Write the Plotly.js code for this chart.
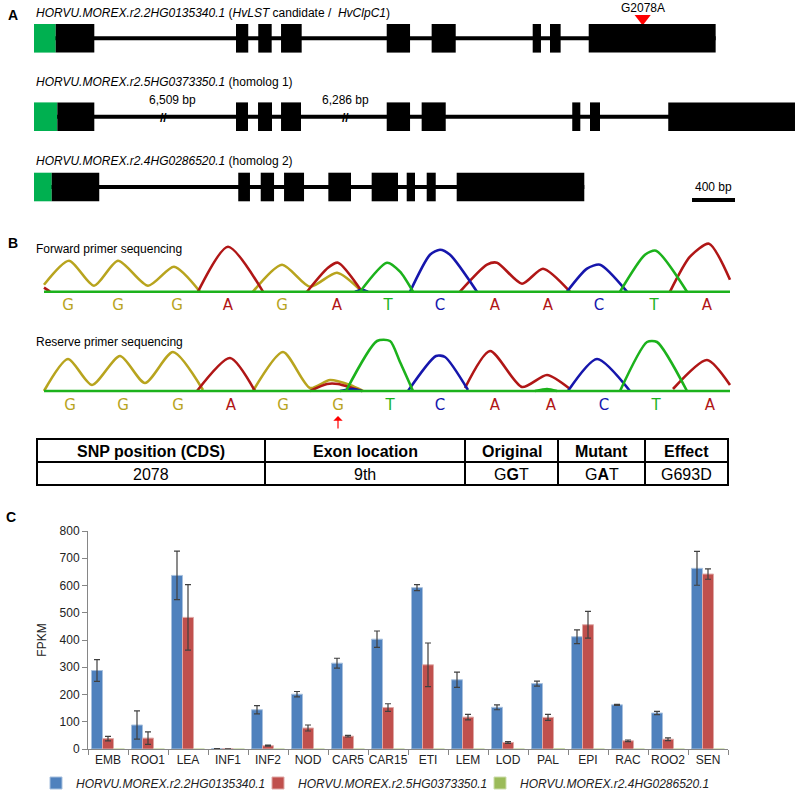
<!DOCTYPE html>
<html><head><meta charset="utf-8">
<script src="https://cdn.plot.ly/plotly-3.0.1.min.js"></script>
<style>html,body{margin:0;padding:0;background:#fff;} #chart{width:798px;height:793px;}</style>
</head><body><div id="chart"></div>
<script>
// ---------------- Panel C data ----------------
const categories = ['EMB','ROO1','LEA','INF1','INF2','NOD','CAR5','CAR15','ETI','LEM','LOD','PAL','EPI','RAC','ROO2','SEN'];
const seriesNames = ['HORVU.MOREX.r2.2HG0135340.1','HORVU.MOREX.r2.5HG0373350.1','HORVU.MOREX.r2.4HG0286520.1'];
const fpkm2HG = [288, 88, 637, 1, 144, 201, 315, 403, 592, 254, 153, 240, 412, 162, 132, 663];
const err2HG  = [40, 52, 89, 0.5, 15, 10, 18, 30, 11, 28, 9, 9, 25, 2, 6, 62];
const fpkm5HG = [38, 40, 483, 0.5, 12, 77, 47, 152, 309, 117, 24, 116, 456, 30, 36, 642];
const err5HG  = [8, 23, 120, 0.3, 2, 11, 3, 14, 80, 10, 3, 11, 49, 3, 5, 19];
const fpkm4HG = [0, 0, 0, 0, 0, 0, 0, 0, 0, 0, 0, 1.5, 0, 0, 0, 0];

// ---------------- Panel A data (bp) ----------------
const gene1Name = '<i>HORVU.MOREX.r2.2HG0135340.1</i> (<i>HvLST</i> candidate /  <i>HvClpC1</i>)';
const gene1Utr = [0, 202];
const gene1ExonStart = [202, 1879, 2086, 2298, 3281, 3699, 4639, 4800, 5160];
const gene1ExonEnd   = [561, 1993, 2211, 2490, 3498, 3923, 4716, 4899, 6341];
const snpPos = 5662, snpLabel = 'G2078A';
const gene2Name = '<i>HORVU.MOREX.r2.5HG0373350.1</i> (homolog 1)';
const gene2Utr = [0, 217];
const gene2ExonStart = [217, 1879, 2084, 2298, 3281, 3606, 5007, 5172, 5900];
const gene2ExonEnd   = [561, 1991, 2214, 2484, 3498, 3830, 5082, 5265, 7079];
const gene2Breaks = [1200, 2893];
const gene2BreakLabels = ['6,509 bp', '6,286 bp'];
const gene2BreakLabelPos = [1285, 2893];
const gene3Name = '<i>HORVU.MOREX.r2.4HG0286520.1</i> (homolog 2)';
const gene3Utr = [0, 165];
const gene3ExonStart = [165, 1900, 2109, 2326, 2738, 3141, 3467, 3653, 3932];
const gene3ExonEnd   = [607, 2009, 2233, 2512, 2949, 3386, 3544, 3737, 5119];
const scaleBar = [6121, 6521], scaleLabel = '400 bp';

// ---------------- Panel B data (scan position, peak height; null = gap) ----------------
const fwdLetters = ['G','G','G','A','G','A','T','C','A','A','C','T','A'];
const fwdPos = [68,118,177,228,282,337,388,440,495,548,599,654,707];
const revLetters = ['G','G','G','A','G','G','T','C','A','A','C','T','A'];
const revPos = [70,123,178,231,283,338,390,440,495,551,604,656,710];
const traceSpan = [44, 730];

const fwdGx = [44, 69, 94, 118, 148, 174, 200, null, 253, 282, 310, 337, 362];
const fwdGh = [7, 31, 6, 31, 6, 25, 0, null, 0, 27, 5, 19, 0];
const fwdAx = [44, 50, null, 198, 228, 263, null, 307, 328, 338, 362, null, 460, 487, 497, 522, 543, 570, null, 670, 690, 709, 730];
const fwdAh = [4, 0, null, 0, 45, 0, null, 0, 24, 29, 0, null, 0, 27, 29, 8, 23, 0, null, 0, 35, 48, 12];
const fwdCx = [355, 362, 368, null, 410, 430, 440, 450, 477, null, 567, 587, 600, 627];
const fwdCh = [0, 2, 0, null, 0, 37, 42, 37, 0, null, 0, 23, 27, 0];
const fwdTx = [360, 387, 400, 413, null, 620, 645, 656, 687];
const fwdTh = [0, 29, 20, 0, null, 0, 37, 41, 0];

const revGx = [44, 68, 92, 120, 145, 173, 203, null, 253, 283, 310, 330, 350, 363];
const revGh = [0, 32, 6, 35, 8, 39, 1, null, 0, 39, 3, 11, 6, 0];
const revAx = [197, 230, 255, null, 310, 327, 338, 352, 362, null, 465, 490, 522, 547, 570, null, 673, 707, 730];
const revAh = [0, 33, 0, null, 0, 7, 7, 3, 0, null, 3, 40, 4, 16, 2, null, 2, 31, 6];
const revCx = [340, 352, 362, null, 408, 436, 445, 468, null, 568, 597, 630];
const revCh = [0, 2, 0, null, 0, 35, 34, 1, null, 0, 32, 0];
const revTx = [346, 377, 390, 400, 413, null, 535, 547, 557, null, 620, 647, 657, 687];
const revTh = [0, 50, 50, 29, 0, null, 0, 2, 0, null, 0, 49, 49, 0];

// ---------------- Table data ----------------
const tableHeader = ['SNP position (CDS)', 'Exon location', 'Original', 'Mutant', 'Effect'];
const tableRow = ['2078', '9th', 'G<b>G</b>T', 'G<b>A</b>T', 'G693D'];

// ---------------- Build ----------------
const W = 798, H = 793;
const px = v => v / W, py = v => 1 - v / H;
const FONT = 'Liberation Sans, Arial, sans-serif';
const baseColor = {G:'rgb(184,164,30)', A:'rgb(176,22,22)', C:'rgb(22,22,172)', T:'rgb(28,178,28)'};

const traces = [];
const barColors = ['#4F81BD', '#C0504D', '#9BBB59'];
const barLines = ['#A7C0DE', '#DFA8A6', '#CDDDAC'];
const legendIds = ['legend', 'legend2', 'legend3'];
const vals = [fpkm2HG, fpkm5HG, fpkm4HG];
const errs = [err2HG, err5HG, null];
vals.forEach((v, i) => {
  const t = {type:'bar', x:categories, y:v, name:'<i>'+seriesNames[i]+'</i>', xaxis:'x', yaxis:'y', legend:legendIds[i],
    marker:{color:barColors[i], line:{color:barLines[i], width:1}}};
  if (errs[i]) t.error_y = {type:'data', array:errs[i], visible:true, color:'#404040', thickness:1.2, width:3};
  traces.push(t);
});

function chrom(xs, hs, col, xa, ya, shape) {
  return {type:'scatter', mode:'lines', x:xs, y:hs, xaxis:xa, yaxis:ya, showlegend:false, connectgaps:false,
    line:{color:col, width:2.6, shape:shape || 'spline', smoothing:0.7}, hoverinfo:'skip'};
}
traces.push(chrom(fwdGx, fwdGh, baseColor.G, 'x3', 'y3'));
traces.push(chrom(fwdAx, fwdAh, baseColor.A, 'x3', 'y3'));
traces.push(chrom(fwdCx, fwdCh, baseColor.C, 'x3', 'y3'));
traces.push(chrom(fwdTx, fwdTh, baseColor.T, 'x3', 'y3'));
traces.push(chrom(traceSpan, [0, 0], baseColor.T, 'x3', 'y3', 'linear'));
traces.push(chrom(revGx, revGh, baseColor.G, 'x4', 'y4'));
traces.push(chrom(revAx, revAh, baseColor.A, 'x4', 'y4'));
traces.push(chrom(revCx, revCh, baseColor.C, 'x4', 'y4'));
traces.push(chrom(revTx, revTh, baseColor.T, 'x4', 'y4'));
traces.push(chrom(traceSpan, [0, 0], baseColor.T, 'x4', 'y4', 'linear'));
traces.push({type:'scatter', mode:'text', x:fwdPos, y:fwdPos.map(()=>-15), text:fwdLetters, xaxis:'x3', yaxis:'y3',
  textfont:{family:'DejaVu Sans, Verdana, sans-serif', size:15, color:fwdLetters.map(l=>baseColor[l])}, showlegend:false, hoverinfo:'skip'});
traces.push({type:'scatter', mode:'text', x:revPos, y:revPos.map(()=>-15), text:revLetters, xaxis:'x4', yaxis:'y4',
  textfont:{family:'DejaVu Sans, Verdana, sans-serif', size:15, color:revLetters.map(l=>baseColor[l])}, showlegend:false, hoverinfo:'skip'});
traces.push({type:'scatter', mode:'markers', x:[snpPos], y:[18.5], xaxis:'x2', yaxis:'y2', showlegend:false, hoverinfo:'skip',
  marker:{symbol:'triangle-down', size:14, color:'#FF0000', line:{width:0}}});

// shapes for panel A
const shapes = [];
const EH = 14.3;
function geneShapes(utr, starts, ends, yc) {
  const endAll = Math.max(...ends);
  shapes.push({type:'line', xref:'x2', yref:'y2', x0:utr[0], x1:endAll, y0:yc, y1:yc, line:{color:'black', width:4}, layer:'below'});
  shapes.push({type:'rect', xref:'x2', yref:'y2', x0:utr[0], x1:utr[1], y0:yc-EH, y1:yc+EH, fillcolor:'#00B050', line:{width:0}});
  starts.forEach((a, i) => shapes.push({type:'rect', xref:'x2', yref:'y2', x0:a, x1:ends[i], y0:yc-EH, y1:yc+EH, fillcolor:'black', line:{width:0}}));
}
const geneY = [38.3, 116.7, 187];
geneShapes(gene1Utr, gene1ExonStart, gene1ExonEnd, geneY[0]);
geneShapes(gene2Utr, gene2ExonStart, gene2ExonEnd, geneY[1]);
geneShapes(gene3Utr, gene3ExonStart, gene3ExonEnd, geneY[2]);
shapes.push({type:'line', xref:'x2', yref:'y2', x0:scaleBar[0], x1:scaleBar[1], y0:200, y1:200, line:{color:'black', width:4}});

const annotations = [];
function txt(text, x, y, size, opts) {
  annotations.push(Object.assign({text:text, x:x, y:y, xref:'paper', yref:'paper', showarrow:false,
    xanchor:'left', yanchor:'middle', font:{family:FONT, size:size, color:'black'}}, opts || {}));
}

// table (grid layout in page pixels, cells filled from the table arrays)
const colEdges = [37, 265, 465, 558, 645, 728];
const rowEdges = [439, 462, 485];
shapes.push({type:'rect', xref:'paper', yref:'paper', x0:px(colEdges[0]), x1:px(colEdges[5]), y0:py(rowEdges[0]), y1:py(rowEdges[2]), line:{color:'black', width:2}});
shapes.push({type:'line', xref:'paper', yref:'paper', x0:px(colEdges[0]), x1:px(colEdges[5]), y0:py(rowEdges[1]), y1:py(rowEdges[1]), line:{color:'black', width:2}});
for (let i = 1; i < 5; i++) shapes.push({type:'line', xref:'paper', yref:'paper', x0:px(colEdges[i]), x1:px(colEdges[i]), y0:py(rowEdges[0]), y1:py(rowEdges[2]), line:{color:'black', width:2}});
tableHeader.forEach((h, i) => txt('<b>'+h+'</b>', px((colEdges[i]+colEdges[i+1])/2), py((rowEdges[0]+rowEdges[1])/2 + 1), 16, {xanchor:'center'}));
tableRow.forEach((v, i) => txt(v, px((colEdges[i]+colEdges[i+1])/2), py((rowEdges[1]+rowEdges[2])/2 + 1), 16, {xanchor:'center'}));

txt('<b>A</b>', px(6), py(15), 14);
txt('<b>B</b>', px(6), py(243), 14);
txt('<b>C</b>', px(4), py(517), 14);
txt(gene1Name, px(34), py(13), 12);
txt(gene2Name, px(34), py(82), 12);
txt(gene3Name, px(34), py(161), 12);
txt('Forward primer sequencing', px(34), py(249), 12);
txt('Reserve primer sequencing', px(34), py(342), 12);
annotations.push({text:snpLabel, x:snpPos, y:7.5, xref:'x2', yref:'y2', showarrow:false, font:{family:FONT, size:12, color:'black'}});
gene2Breaks.forEach((b, i) => {
  annotations.push({text:'<b>//</b>', x:b, y:geneY[1]+1, xref:'x2', yref:'y2', showarrow:false, font:{family:FONT, size:12, color:'black'}});
  annotations.push({text:gene2BreakLabels[i], x:gene2BreakLabelPos[i], y:100, xref:'x2', yref:'y2', showarrow:false, font:{family:FONT, size:12, color:'black'}});
});
annotations.push({text:scaleLabel, x:(scaleBar[0]+scaleBar[1])/2, y:187, xref:'x2', yref:'y2', showarrow:false, font:{family:FONT, size:12, color:'black'}});
annotations.push({text:'', x:revPos[5], y:-25, xref:'x4', yref:'y4', showarrow:true, ax:0, ay:14,
  arrowcolor:'#FF0000', arrowhead:1, arrowwidth:1.2, arrowsize:1.3});

const hidden = {visible:false, fixedrange:true, showgrid:false, zeroline:false};
const legendBase = {orientation:'h', xanchor:'left', y:py(783), yanchor:'middle', font:{size:12, color:'#222'}, bgcolor:'rgba(0,0,0,0)'};
const layout = {
  width:W, height:H, margin:{l:0, r:0, t:0, b:0, autoexpand:false},
  paper_bgcolor:'white', plot_bgcolor:'rgba(0,0,0,0)',
  font:{family:FONT, size:12, color:'#222'},
  hovermode:false, barmode:'group', bargap:0.175, bargroupgap:0,
  xaxis:{domain:[px(88), px(728)], anchor:'y', type:'category', showline:true, linecolor:'#868686', linewidth:1,
    ticks:'outside', tickson:'boundaries', ticklen:5, tickcolor:'#868686', tickangle:0, tickfont:{size:12, color:'#222'}, showgrid:false, fixedrange:true},
  yaxis:{domain:[py(749), py(531)], anchor:'x', range:[0, 800], dtick:100, showline:true, linecolor:'#868686', linewidth:1,
    ticks:'outside', ticklen:5, tickcolor:'#868686', tickfont:{size:12, color:'#222'}, showgrid:false, zeroline:false, fixedrange:true,
    title:{text:'FPKM', font:{size:12, color:'#222'}, standoff:10}},
  xaxis2:Object.assign({domain:[0,1], anchor:'y2', range:[-34*400/43, (W-34)*400/43]}, hidden),
  yaxis2:Object.assign({domain:[0,1], anchor:'x2', range:[H, 0]}, hidden),
  xaxis3:Object.assign({domain:[0,1], anchor:'y3', range:[0, W]}, hidden),
  yaxis3:Object.assign({domain:[0,1], anchor:'x3', range:[-(H-291.7), 291.7]}, hidden),
  xaxis4:Object.assign({domain:[0,1], anchor:'y4', range:[0, W]}, hidden),
  yaxis4:Object.assign({domain:[0,1], anchor:'x4', range:[-(H-391), 391]}, hidden),
  showlegend:true,
  legend:Object.assign({x:px(36)}, legendBase),
  legend2:Object.assign({x:px(258)}, legendBase),
  legend3:Object.assign({x:px(480)}, legendBase),
  shapes:shapes, annotations:annotations
};
Plotly.newPlot('chart', traces, layout, {staticPlot:true, displayModeBar:false});
</script></body></html>
